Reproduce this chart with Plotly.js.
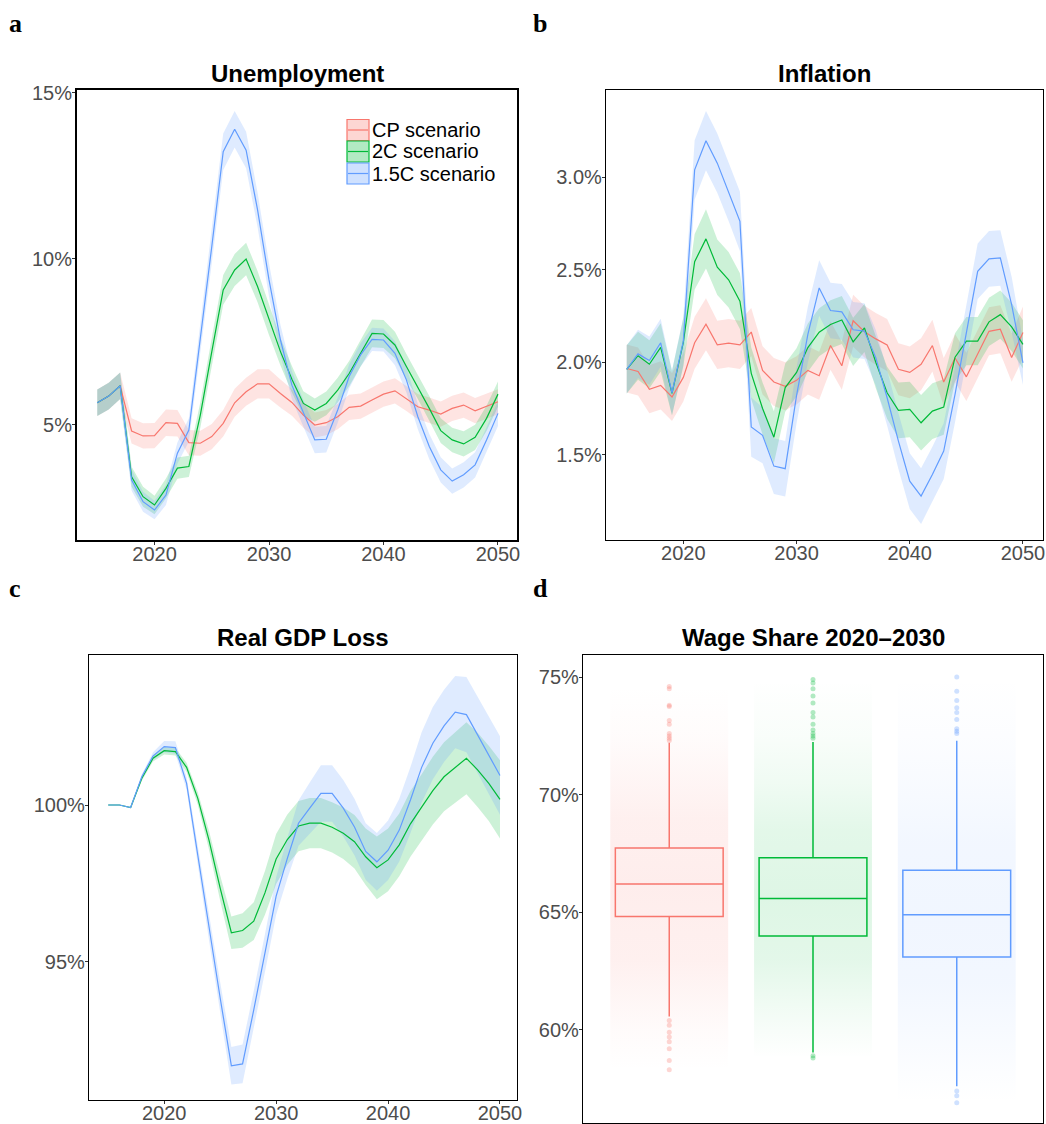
<!DOCTYPE html>
<html>
<head>
<meta charset="utf-8">
<script src="https://cdn.plot.ly/plotly-3.0.1.min.js"></script>
<style>html,body{margin:0;padding:0;background:#fff}#chart{width:1046px;height:1124px}</style>
</head>
<body>
<div id="chart"></div>
<script>
// ---------- DATA ----------
const years = [2015,2016,2017,2018,2019,2020,2021,2022,2023,2024,2025,2026,2027,2028,2029,2030,2031,2032,2033,2034,2035,2036,2037,2038,2039,2040,2041,2042,2043,2044,2045,2046,2047,2048,2049,2050];
const scenarioNames = ["CP scenario", "2C scenario", "1.5C scenario"];
const yearTicks = [2020, 2030, 2040, 2050];

// Panel a: Unemployment (%)
const unempTicks = [5, 10, 15];
const unempTickLabels = ["5%", "10%", "15%"];
const unempCP   = [5.67,5.87,6.18,4.82,4.67,4.68,5.07,5.05,4.47,4.45,4.65,5.05,5.67,6.00,6.24,6.24,5.95,5.68,5.30,5.00,5.07,5.25,5.53,5.57,5.75,5.93,6.03,5.80,5.55,5.45,5.33,5.50,5.60,5.43,5.57,5.70];
const unempCPband = [0.40,0.40,0.40,0.38,0.38,0.38,0.40,0.40,0.38,0.38,0.38,0.40,0.42,0.42,0.44,0.44,0.42,0.40,0.38,0.38,0.38,0.38,0.38,0.38,0.38,0.38,0.38,0.38,0.38,0.38,0.38,0.38,0.38,0.38,0.38,0.38];
const unemp2C   = [5.67,5.87,6.18,3.44,2.84,2.59,3.09,3.70,3.75,5.30,7.20,9.07,9.67,10.00,9.17,8.16,7.21,6.38,5.65,5.45,5.65,6.05,6.55,7.16,7.76,7.74,7.41,6.76,6.15,5.50,4.83,4.55,4.43,4.63,5.20,5.93];
const unemp2Cband = [0.40,0.40,0.40,0.30,0.30,0.28,0.30,0.32,0.32,0.38,0.42,0.45,0.48,0.49,0.47,0.45,0.42,0.40,0.37,0.35,0.36,0.37,0.38,0.40,0.42,0.42,0.40,0.38,0.37,0.37,0.37,0.37,0.38,0.38,0.38,0.38];
const unemp15C  = [5.67,5.87,6.18,3.34,2.69,2.44,2.89,4.15,4.85,7.56,10.37,13.23,13.91,13.28,11.48,9.37,7.56,6.20,5.35,4.55,4.57,5.45,6.46,7.11,7.58,7.56,7.16,6.36,5.25,4.35,3.65,3.31,3.50,3.80,4.55,5.35];
const unemp15Cband = [0.40,0.40,0.40,0.32,0.30,0.28,0.30,0.32,0.35,0.45,0.50,0.55,0.55,0.55,0.52,0.50,0.45,0.42,0.40,0.40,0.40,0.38,0.36,0.35,0.35,0.35,0.36,0.38,0.38,0.38,0.38,0.38,0.38,0.38,0.38,0.38];

// Panel b: Inflation (%)
const inflTicks = [1.5, 2.0, 2.5, 3.0];
const inflTickLabels = ["1.5%", "2.0%", "2.5%", "3.0%"];
const inflCP   = [1.966,1.950,1.854,1.875,1.812,1.918,2.105,2.205,2.094,2.103,2.094,2.163,1.956,1.893,1.870,1.902,1.956,1.927,2.090,1.981,2.224,2.165,2.126,2.093,1.962,1.945,1.989,2.090,1.893,2.023,1.921,2.045,2.167,2.178,2.025,2.161];
const inflCPband = [0.13,0.13,0.13,0.13,0.13,0.13,0.14,0.14,0.13,0.13,0.13,0.13,0.13,0.13,0.13,0.13,0.13,0.13,0.13,0.13,0.14,0.14,0.14,0.14,0.14,0.14,0.14,0.14,0.13,0.13,0.13,0.13,0.13,0.13,0.13,0.14];
const infl2C   = [1.961,2.035,1.989,2.080,1.832,2.107,2.543,2.666,2.513,2.445,2.330,1.940,1.750,1.595,1.863,1.945,2.079,2.162,2.204,2.228,2.110,2.185,2.000,1.835,1.740,1.745,1.673,1.736,1.758,2.027,2.114,2.114,2.218,2.257,2.191,2.096];
const infl2Cband = [0.13,0.13,0.13,0.13,0.12,0.13,0.15,0.16,0.15,0.15,0.15,0.14,0.14,0.14,0.13,0.13,0.13,0.13,0.13,0.13,0.13,0.13,0.14,0.14,0.15,0.15,0.15,0.15,0.15,0.13,0.13,0.13,0.13,0.13,0.13,0.13];
const infl15C  = [1.961,2.045,2.009,2.105,1.835,2.114,3.039,3.196,3.075,2.923,2.761,1.650,1.605,1.439,1.425,1.820,2.150,2.401,2.279,2.272,2.175,2.168,2.024,1.808,1.574,1.358,1.277,1.394,1.520,1.826,2.150,2.491,2.558,2.563,2.311,1.997];
const infl15Cband = [0.13,0.13,0.13,0.13,0.12,0.13,0.16,0.16,0.16,0.16,0.16,0.16,0.15,0.15,0.15,0.15,0.15,0.15,0.15,0.15,0.15,0.15,0.15,0.15,0.15,0.15,0.15,0.15,0.15,0.15,0.15,0.15,0.15,0.15,0.15,0.12];

// Panel c: Real GDP relative to CP (%)
const gdpTicks = [95, 100];
const gdpTickLabels = ["95%", "100%"];
const gdp2C   = [100.0,100.0,99.92,100.85,101.49,101.73,101.70,101.20,100.21,98.88,97.35,95.93,96.00,96.30,97.20,98.28,98.90,99.33,99.42,99.42,99.29,99.10,98.83,98.35,98.00,98.25,98.73,99.40,99.93,100.46,100.90,101.20,101.49,101.12,100.69,100.18];
const gdp2Cband = [0,0,0,0.08,0.10,0.12,0.12,0.15,0.20,0.30,0.40,0.52,0.55,0.60,0.70,0.80,0.80,0.80,0.80,0.80,0.80,0.82,0.85,0.90,1.00,1.00,1.00,1.05,1.05,1.08,1.10,1.12,1.15,1.18,1.20,1.25];
const gdp15C  = [100.0,100.0,99.92,100.90,101.56,101.86,101.83,100.69,98.40,96.10,93.85,91.69,91.75,93.47,95.28,97.10,98.30,99.42,99.90,100.37,100.37,99.90,99.30,98.52,98.19,98.56,99.20,100.16,101.20,101.97,102.52,102.96,102.88,102.24,101.59,100.94];
const gdp15Cband = [0,0,0,0.08,0.12,0.18,0.20,0.20,0.30,0.40,0.50,0.60,0.62,0.60,0.60,0.60,0.65,0.72,0.82,0.90,0.90,0.90,0.90,0.90,0.92,0.95,1.00,1.05,1.12,1.15,1.15,1.15,1.20,1.22,1.25,1.25];

// Panel d: Wage share 2020-2030 (%) box statistics
const wageTicks = [60, 65, 70, 75];
const wageTickLabels = ["60%", "65%", "70%", "75%"];
const boxCats      = [0, 1, 2];
const boxQ1        = [64.82, 63.99, 63.10];
const boxMedian    = [66.20, 65.59, 64.90];
const boxQ3        = [67.73, 67.32, 66.79];
const boxLowFence  = [60.57, 59.04, 57.60];
const boxHighFence = [72.21, 72.24, 72.29];
const outliers = [
  [74.6,74.5,73.8,73.75,73.15,73.0,72.6,72.5,72.4,72.3,60.4,60.2,59.9,59.7,59.5,59.2,58.7,58.3],
  [74.9,74.75,74.5,74.2,73.9,73.5,73.3,73.0,72.75,72.6,72.5,72.4,58.9,58.8],
  [75.0,74.4,74.0,73.7,73.5,73.2,72.8,72.7,72.6,57.4,57.2,56.9]
];
// density profile of the jittered point clouds: levels (y, %) and opacity at each level
const cloudLevels = [
  [58.3, 60.0, 61.5, 63.0, 66.2, 69.0, 71.0, 72.5, 74.6],
  [58.8, 60.0, 61.5, 63.0, 65.6, 68.5, 70.5, 72.5, 74.9],
  [56.9, 58.5, 60.0, 62.0, 64.9, 68.0, 70.0, 72.5, 75.0]
];
const cloudDensity = [
  [0.0, 0.03, 0.07, 0.11, 0.13, 0.11, 0.06, 0.025, 0.0],
  [0.0, 0.03, 0.07, 0.11, 0.13, 0.11, 0.06, 0.025, 0.0],
  [0.0, 0.025, 0.05, 0.08, 0.09, 0.08, 0.05, 0.02, 0.0]
];

// ---------- STYLE ----------
const colors = ["#F8766D", "#00BA38", "#619CFF"];
const rgba = (hex, a) => {
  const r = parseInt(hex.slice(1,3),16), g = parseInt(hex.slice(3,5),16), b = parseInt(hex.slice(5,7),16);
  return `rgba(${r},${g},${b},${a})`;
};
const FONT = "Liberation Sans, Arial, Helvetica, sans-serif";

function bandTrace(x, mid, half, color, xa, ya) {
  const up = mid.map((v,i) => v + half[i]);
  const lo = mid.map((v,i) => v - half[i]);
  return {
    x: x.concat(x.slice().reverse()),
    y: up.concat(lo.slice().reverse()),
    type: "scatter", mode: "lines", fill: "toself",
    fillcolor: rgba(color, 0.2), line: {width: 0, color: "rgba(0,0,0,0)"},
    hoverinfo: "skip", showlegend: false, xaxis: xa, yaxis: ya
  };
}
function lineTrace(x, y, color, name, xa, ya) {
  return {x: x, y: y, type: "scatter", mode: "lines", name: name,
    line: {color: color, width: 1.2}, showlegend: false, xaxis: xa, yaxis: ya};
}

const traces = [];
// Panel a
[[unempCP,unempCPband],[unemp2C,unemp2Cband],[unemp15C,unemp15Cband]].forEach((s,i) =>
  traces.push(bandTrace(years, s[0], s[1], colors[i], "x", "y")));
[unempCP, unemp2C, unemp15C].forEach((s,i) => traces.push(lineTrace(years, s, colors[i], scenarioNames[i], "x", "y")));
// Panel b
[[inflCP,inflCPband],[infl2C,infl2Cband],[infl15C,infl15Cband]].forEach((s,i) =>
  traces.push(bandTrace(years, s[0], s[1], colors[i], "x2", "y2")));
[inflCP, infl2C, infl15C].forEach((s,i) => traces.push(lineTrace(years, s, colors[i], scenarioNames[i], "x2", "y2")));
// Panel c
[[gdp2C,gdp2Cband,1],[gdp15C,gdp15Cband,2]].forEach(s =>
  traces.push(bandTrace(years, s[0], s[1], colors[s[2]], "x3", "y3")));
[[gdp2C,1],[gdp15C,2]].forEach(s => traces.push(lineTrace(years, s[0], colors[s[1]], scenarioNames[s[1]], "x3", "y3")));

// Panel d: jitter clouds drawn as vertical density gradients
const cloudHalf = 0.41;
boxCats.forEach((c,i) => {
  const lv = cloudLevels[i], lo = lv[0], hi = lv[lv.length-1];
  const scale = lv.map((v,k) => [(v - lo) / (hi - lo), rgba(colors[i], cloudDensity[i][k])]);
  traces.push({x: [c-cloudHalf, c+cloudHalf, c+cloudHalf, c-cloudHalf, c-cloudHalf],
    y: [lo, lo, hi, hi, lo], type: "scatter", mode: "lines", fill: "toself",
    fillgradient: {type: "vertical", colorscale: scale, start: lo, stop: hi},
    line: {width: 0, color: "rgba(0,0,0,0)"},
    hoverinfo: "skip", showlegend: false, xaxis: "x4", yaxis: "y4"});
});
// outliers
boxCats.forEach((c,i) => {
  traces.push({x: outliers[i].map(() => c), y: outliers[i], type: "scatter", mode: "markers",
    marker: {color: rgba(colors[i], 0.3), size: 5}, showlegend: false, hoverinfo: "skip",
    xaxis: "x4", yaxis: "y4"});
});
// boxes
boxCats.forEach((c,i) => {
  traces.push({type: "box", x: [c], q1: [boxQ1[i]], median: [boxMedian[i]], q3: [boxQ3[i]],
    lowerfence: [boxLowFence[i]], upperfence: [boxHighFence[i]], boxpoints: false,
    width: 0.75, whiskerwidth: 0, line: {color: colors[i], width: 1.5},
    fillcolor: "rgba(0,0,0,0)", name: scenarioNames[i], showlegend: false,
    xaxis: "x4", yaxis: "y4"});
});

// ---------- LAYOUT ----------
const W = 1046, H = 1124;
const px = v => v / W;
const py = v => 1 - v / H;

function axisBase(extra, lw) {
  return Object.assign({
    showgrid: false, zeroline: false, showline: true, mirror: true,
    linecolor: "#000", linewidth: lw, ticks: "outside", ticklen: 3, tickwidth: 1,
    tickcolor: "#333", tickfont: {family: FONT, size: 20, color: "#4D4D4D"},
    fixedrange: true
  }, extra);
}
const xt = {tickmode: "array", tickvals: yearTicks, ticktext: yearTicks.map(String), ticklabelstandoff: -8};

const layout = {
  width: W, height: H,
  margin: {l: 0, r: 0, t: 0, b: 0},
  paper_bgcolor: "#fff", plot_bgcolor: "#fff",
  showlegend: false,
  xaxis:  axisBase(Object.assign({domain: [px(77), px(517)], anchor: "y", range: [2013.23, 2051.66]}, xt), 2),
  yaxis:  axisBase({domain: [py(540), py(90)], anchor: "x", range: [1.536, 15.09], tickmode: "array", tickvals: unempTicks, ticktext: unempTickLabels, ticklabelstandoff: -4}, 2),
  xaxis2: axisBase(Object.assign({domain: [px(606), px(1043)], anchor: "y2", range: [2013.17, 2051.77]}, xt), 1.2),
  yaxis2: axisBase({domain: [py(540), py(90)], anchor: "x2", range: [1.04, 3.47], tickmode: "array", tickvals: inflTicks, ticktext: inflTickLabels, ticklabelstandoff: -4}, 1.2),
  xaxis3: axisBase(Object.assign({domain: [px(89), px(517)], anchor: "y3", range: [2013.28, 2051.52]}, xt), 1.2),
  yaxis3: axisBase({domain: [py(1100), py(655)], anchor: "x3", range: [90.6, 104.78], tickmode: "array", tickvals: gdpTicks, ticktext: gdpTickLabels, ticklabelstandoff: -4}, 1.2),
  xaxis4: axisBase({domain: [px(583), px(1043)], anchor: "y4", range: [-0.6, 2.6], tickvals: boxCats, showticklabels: false, ticks: ""}, 1.2),
  yaxis4: axisBase({domain: [py(1123), py(655)], anchor: "x4", range: [56.04, 75.94], tickmode: "array", tickvals: wageTicks, ticktext: wageTickLabels, ticklabelstandoff: -4}, 1.2),
  annotations: [],
  shapes: []
};

// titles
const titles = [["Unemployment", 297, 73], ["Inflation", 824.5, 73], ["Real GDP Loss", 303, 637], ["Wage Share 2020\u20132030", 813, 637]];
titles.forEach(t => layout.annotations.push({text: t[0], x: px(t[1]), y: py(t[2]), xref: "paper", yref: "paper",
  xanchor: "center", yanchor: "middle", showarrow: false, font: {family: FONT, size: 24, color: "#000", weight: "bold"}}));
// panel letters
[["a", 7, 23], ["b", 531, 23], ["c", 7, 588], ["d", 531, 588]].forEach(l => layout.annotations.push({
  text: "<b>" + l[0] + "</b>", x: px(l[1]), y: py(l[2]), xref: "paper", yref: "paper",
  xanchor: "left", yanchor: "middle", showarrow: false,
  font: {family: "Liberation Serif, DejaVu Serif, serif", size: 26, color: "#000"}}));

// legend (panel a)
const legTop = [119.5, 141, 163];
const keyH = 21, keyL = 347, keyR = 369;
scenarioNames.forEach((n,i) => {
  const t = legTop[i];
  layout.shapes.push({type: "rect", xref: "paper", yref: "paper", x0: px(keyL), x1: px(keyR), y0: py(t+keyH), y1: py(t),
    fillcolor: rgba(colors[i], 0.3), line: {color: colors[i], width: 1.2}});
  layout.shapes.push({type: "line", xref: "paper", yref: "paper", x0: px(keyL+1), x1: px(keyR-1), y0: py(t+keyH/2), y1: py(t+keyH/2),
    line: {color: colors[i], width: 1.2}});
  layout.annotations.push({text: n, x: px(keyR+1), y: py(t+keyH/2), xref: "paper", yref: "paper",
    xanchor: "left", yanchor: "middle", showarrow: false, font: {family: FONT, size: 20, color: "#000"}});
});

Plotly.newPlot("chart", traces, layout, {staticPlot: true, displayModeBar: false});
</script>
</body>
</html>
